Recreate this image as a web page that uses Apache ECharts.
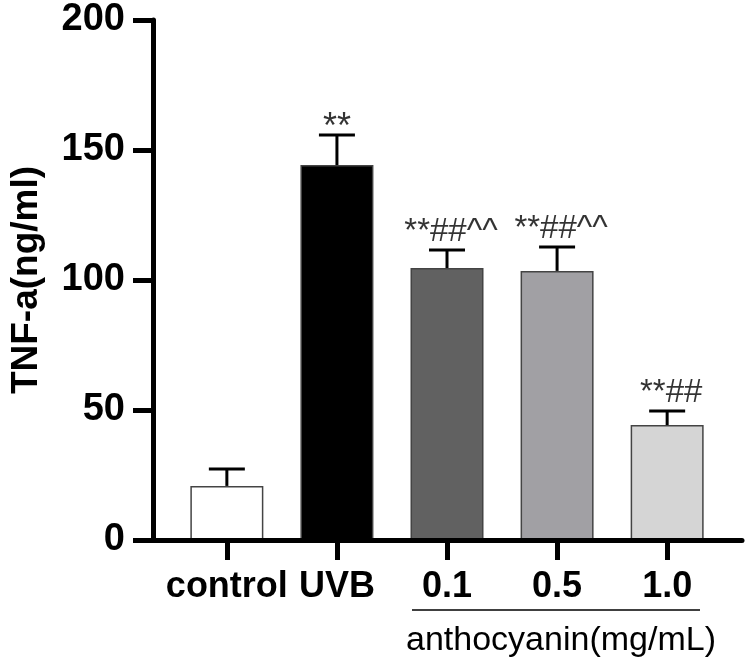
<!DOCTYPE html>
<html>
<head>
<meta charset="utf-8">
<script src="https://cdn.jsdelivr.net/npm/echarts@6/dist/echarts.min.js"></script>
<style>
  html, body { margin: 0; padding: 0; background: #fff; }
  #main { width: 749px; height: 659px; }
</style>
</head>
<body>
<div id="main"></div>
<script>
// data
var categories = ['control', 'UVB', '0.1', '0.5', '1.0'];
var means = [20.8, 144.2, 104.6, 103.5, 44.2];
var errors = [6.5, 11.6, 6.9, 9.2, 5.4];
var marks = ['', '**', '**##^^', '**##^^', '**##'];
var barColors = ['#ffffff', '#000000', '#616161', '#a1a0a4', '#d5d5d5'];
var yTicks = [0, 50, 100, 150, 200];

var font = 'Liberation Sans, Arial, sans-serif';
var positions = categories.map(function (c, i) { return i; });

var barData = means.map(function (v, i) {
    return { value: [i, v], itemStyle: { color: barColors[i] } };
});
var errData = means.map(function (v, i) {
    return [i, v, v + errors[i]];
});
var markData = means.map(function (v, i) {
    return {
        value: [i, v + errors[i]],
        // the lone ** over UVB sits right on the cap
        label: i === 1 ? { offset: [0, 13], fontSize: 36 } : { offset: [4, 0] }
    };
});

var myChart = echarts.init(document.getElementById('main'));

var option = {
    animation: false,
    grid: { left: 148, right: 7, top: 20, bottom: 119 },
    xAxis: {
        type: 'value',
        min: -0.671,
        max: 4.68,
        z: 5,
        splitLine: { show: false },
        axisLine: { lineStyle: { color: '#000', width: 5 } },
        axisTick: {
            customValues: positions,
            length: 20,
            lineStyle: { color: '#000', width: 5 }
        },
        axisLabel: {
            customValues: positions,
            margin: 29,
            color: '#000',
            fontFamily: font,
            fontWeight: 'bold',
            fontSize: 36,
            formatter: function (v) { return categories[Math.round(v)]; }
        }
    },
    yAxis: {
        type: 'value',
        min: yTicks[0],
        max: yTicks[yTicks.length - 1],
        interval: 50,
        z: 5,
        name: 'TNF-a(ng/ml)',
        nameLocation: 'middle',
        nameGap: 108,
        nameTextStyle: {
            color: '#000',
            fontFamily: font,
            fontWeight: 'bold',
            fontSize: 37
        },
        splitLine: { show: false },
        axisLine: { show: true, onZero: false, lineStyle: { color: '#000', width: 5 } },
        axisTick: { show: true, length: 20, lineStyle: { color: '#000', width: 5 } },
        axisLabel: {
            margin: 28,
            color: '#000',
            fontFamily: font,
            fontWeight: 'bold',
            fontSize: 38
        }
    },
    series: [
        {
            type: 'bar',
            barWidth: 73,
            data: barData,
            itemStyle: { borderColor: '#444', borderWidth: 1.5 }
        },
        {
            type: 'custom',
            z: 4,
            data: errData,
            renderItem: function (params, api) {
                var x = api.value(0);
                var lo = api.coord([x, api.value(1)]);
                var hi = api.coord([x, api.value(2)]);
                var st = { stroke: '#000', lineWidth: 3 };
                return {
                    type: 'group',
                    children: [
                        { type: 'line', shape: { x1: lo[0], y1: lo[1], x2: hi[0], y2: hi[1] }, style: st },
                        { type: 'line', shape: { x1: hi[0] - 18, y1: hi[1], x2: hi[0] + 18, y2: hi[1] }, style: st }
                    ]
                };
            }
        },
        {
            type: 'scatter',
            symbolSize: 0,
            silent: true,
            data: markData,
            label: {
                show: true,
                position: 'top',
                distance: 2,
                color: '#000',
                fontFamily: font,
                fontSize: 33,
                formatter: function (p) { return marks[p.dataIndex]; }
            }
        }
    ],
    graphic: [
        {
            type: 'line',
            shape: { x1: 412, y1: 610, x2: 700, y2: 610 },
            style: { stroke: '#000', lineWidth: 1.5 }
        },
        {
            type: 'text',
            x: 561,
            y: 641,
            style: {
                text: 'anthocyanin(mg/mL)',
                fill: '#000',
                font: '34px ' + font,
                textAlign: 'center',
                textVerticalAlign: 'middle'
            }
        }
    ]
};

myChart.setOption(option);
</script>
</body>
</html>
